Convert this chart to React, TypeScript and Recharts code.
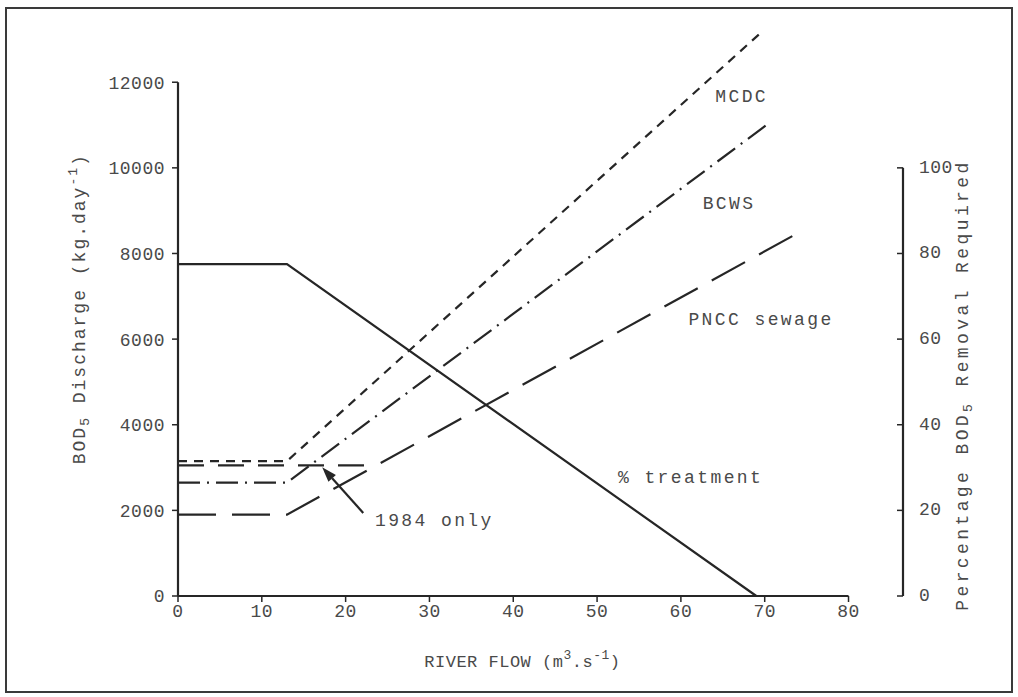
import React from 'react';
import { LineChart, Line, XAxis, YAxis, ReferenceLine, ReferenceDot, Label } from 'recharts';

// River flow (m3/s) at the break points of each line, and the load / percentage there
const mcdcFlow = [0, 13, 69.5];
const mcdcLoad = [3150, 3150, 13150];
const bcwsFlow = [0, 13, 70.2];
const bcwsLoad = [2650, 2650, 11000];
const pnccFlow = [0, 13, 73.7];
const pnccLoad = [1900, 1900, 8450];
const pncc1984Flow = [0, 23.6];
const pncc1984Load = [3050, 3050];
const treatmentFlow = [0, 13, 69];
const treatmentPct = [77.5, 77.5, 0];

const flowTicks = [0, 10, 20, 30, 40, 50, 60, 70, 80];
const loadTicks = [0, 2000, 4000, 6000, 8000, 10000, 12000];
const pctTicks = [0, 20, 40, 60, 80, 100];

// text notes placed on the plot (flow, load)
const noteText = ['MCDC', 'BCWS', 'PNCC sewage', '% treatment', '1984 only'];
const noteFlow = [64.1, 62.6, 60.9, 52.5, 23.5];
const noteLoad = [11650, 9150, 6450, 2750, 1750];

// arrow pointing at the 1984 line
const arrowFlow = [22.1, 17.2];
const arrowLoad = [1940, 3010];

const toPoints = (xs: number[], ys: number[]) => xs.map((x, i) => ({ flow: x, value: ys[i] }));

const mcdc = toPoints(mcdcFlow, mcdcLoad);
const bcws = toPoints(bcwsFlow, bcwsLoad);
const pncc = toPoints(pnccFlow, pnccLoad);
const pncc1984 = toPoints(pncc1984Flow, pncc1984Load);
const treatment = toPoints(treatmentFlow, treatmentPct);

const FONT = '"Liberation Mono", "DejaVu Sans Mono", monospace';
const INK = '#262626';
const TEXT = '#4a4a4a';
const X_MAX = 86.5;
const LW = 2.2;

const tickStyle = { fill: TEXT, fontSize: 18, fontFamily: FONT, letterSpacing: 0.5 };

// right-hand ticks point in towards the plot
const PctTick = (props: any) => {
  const { x, y, payload } = props;
  const axisX = x - 16;
  return (
    <g>
      <line x1={axisX} y1={y} x2={axisX - 6} y2={y} stroke={INK} strokeWidth={1.5} />
      <text
        x={x}
        y={y}
        dominantBaseline="central"
        textAnchor="start"
        fill={TEXT}
        fontSize={18}
        fontFamily={FONT}
        letterSpacing={0.5}
      >
        {payload.value}
      </text>
    </g>
  );
};

const LeftTitle = (props: any) => {
  const vb = props.viewBox || { x: 0, y: 18, width: 178, height: 578 };
  const cx = vb.x + 80;
  const cy = vb.y + vb.height * 0.503;
  return (
    <text
      x={cx}
      y={cy}
      transform={`rotate(-90 ${cx} ${cy})`}
      textAnchor="middle"
      dominantBaseline="central"
      fill={TEXT}
      fontFamily={FONT}
      fontSize={18}
      letterSpacing={2}
    >
      BOD<tspan dy={5} fontSize={13}>5</tspan>
      <tspan dy={-5}> Discharge (kg.day</tspan>
      <tspan dy={-7} fontSize={13}>-1</tspan>
      <tspan dy={7}>)</tspan>
    </text>
  );
};

const RightTitle = (props: any) => {
  const vb = props.viewBox || { x: 903, y: 18, width: 115, height: 578 };
  const cx = vb.x + 60;
  const cy = vb.y + vb.height * 0.635;
  return (
    <text
      x={cx}
      y={cy}
      transform={`rotate(-90 ${cx} ${cy})`}
      textAnchor="middle"
      dominantBaseline="central"
      fill={TEXT}
      fontFamily={FONT}
      fontSize={18}
      letterSpacing={3.4}
    >
      Percentage BOD<tspan dy={5} fontSize={13}>5</tspan>
      <tspan dy={-5}> Removal Required</tspan>
    </text>
  );
};

const BottomTitle = (props: any) => {
  const vb = props.viewBox || { x: 178, y: 596, width: 725, height: 101 };
  const cx = vb.x + vb.width * 0.475;
  const cy = vb.y + 66;
  return (
    <text
      x={cx}
      y={cy}
      textAnchor="middle"
      dominantBaseline="central"
      fill={TEXT}
      fontFamily={FONT}
      fontSize={17}
      letterSpacing={0.5}
    >
      RIVER FLOW (m<tspan dy={-7} fontSize={13}>3</tspan>
      <tspan dy={7}>.s</tspan>
      <tspan dy={-7} fontSize={13}>-1</tspan>
      <tspan dy={7}>)</tspan>
    </text>
  );
};

const Arrow = (props: any) => {
  const { x1, y1, x2, y2 } = props;
  if (x1 == null || y1 == null) return null;
  const ang = Math.atan2(y2 - y1, x2 - x1);
  const len = 15;
  const half = 5;
  const bx = x2 - len * Math.cos(ang);
  const by = y2 - len * Math.sin(ang);
  const pts = [
    [x2, y2],
    [bx + half * Math.sin(ang), by - half * Math.cos(ang)],
    [bx - half * Math.sin(ang), by + half * Math.cos(ang)],
  ]
    .map((p) => p.join(','))
    .join(' ');
  return (
    <g>
      <line x1={x1} y1={y1} x2={bx} y2={by} stroke={INK} strokeWidth={LW} />
      <polygon points={pts} fill={INK} />
    </g>
  );
};

const noteShape = (text: string) => (p: any) => (
  <text
    x={p.cx}
    y={p.cy}
    dominantBaseline="central"
    fill={TEXT}
    fontFamily={FONT}
    fontSize={18}
    letterSpacing={2.4}
  >
    {text}
  </text>
);

export default function App() {
  return (
    <div style={{ position: 'absolute', left: 0, top: 0, width: 1018, height: 697, background: '#fff' }}>
      <div
        style={{
          position: 'absolute',
          left: 5,
          top: 7,
          width: 1008,
          height: 686,
          boxSizing: 'border-box',
          border: '2px solid #3a3a3a',
        }}
      />
      <div style={{ position: 'absolute', left: 0, top: 0 }}>
        <LineChart width={1018} height={697} margin={{ top: 18, right: 0, bottom: 0, left: 0 }}>
          <XAxis
            dataKey="flow"
            type="number"
            domain={[0, X_MAX]}
            ticks={flowTicks}
            interval={0}
            axisLine={false}
            tickLine={{ stroke: INK, strokeWidth: 1.5 }}
            tickSize={6}
            tick={tickStyle}
            height={101}
            label={<Label content={BottomTitle} />}
          />
          <YAxis
            yAxisId="load"
            orientation="left"
            domain={[0, 13500]}
            ticks={loadTicks}
            interval={0}
            width={178}
            axisLine={false}
            tickLine={{ stroke: INK, strokeWidth: 1.5 }}
            tickSize={6}
            tickMargin={7}
            tick={tickStyle}
            label={<Label content={LeftTitle} />}
          />
          <YAxis
            yAxisId="pct"
            orientation="right"
            domain={[0, 135]}
            ticks={pctTicks}
            interval={0}
            width={115}
            axisLine={false}
            tickLine={false}
            tickSize={6}
            tickMargin={10}
            tick={<PctTick />}
            label={<Label content={RightTitle} />}
          />

          {/* axis lines, each only as long as its scale */}
          <ReferenceLine
            yAxisId="load"
            segment={[{ x: 0, y: 0 }, { x: 80, y: 0 }]}
            stroke={INK}
            strokeWidth={LW}
            ifOverflow="visible"
          />
          <ReferenceLine
            yAxisId="load"
            segment={[{ x: 0, y: 0 }, { x: 0, y: 12000 }]}
            stroke={INK}
            strokeWidth={LW}
            ifOverflow="visible"
          />
          <ReferenceLine
            yAxisId="pct"
            segment={[{ x: X_MAX, y: 0 }, { x: X_MAX, y: 100 }]}
            stroke={INK}
            strokeWidth={LW}
            ifOverflow="visible"
          />

          <Line
            yAxisId="load"
            data={mcdc}
            dataKey="value"
            type="linear"
            stroke={INK}
            strokeWidth={LW}
            strokeDasharray="9 7"
            dot={false}
            activeDot={false}
            isAnimationActive={false}
          />
          <Line
            yAxisId="load"
            data={bcws}
            dataKey="value"
            type="linear"
            stroke={INK}
            strokeWidth={LW}
            strokeDasharray="22 7 2 7"
            dot={false}
            activeDot={false}
            isAnimationActive={false}
          />
          <Line
            yAxisId="load"
            data={pncc}
            dataKey="value"
            type="linear"
            stroke={INK}
            strokeWidth={LW}
            strokeDasharray="38 16"
            dot={false}
            activeDot={false}
            isAnimationActive={false}
          />
          <Line
            yAxisId="load"
            data={pncc1984}
            dataKey="value"
            type="linear"
            stroke={INK}
            strokeWidth={LW}
            strokeDasharray="26 14"
            dot={false}
            activeDot={false}
            isAnimationActive={false}
          />
          <Line
            yAxisId="pct"
            data={treatment}
            dataKey="value"
            type="linear"
            stroke={INK}
            strokeWidth={LW}
            dot={false}
            activeDot={false}
            isAnimationActive={false}
          />

          <ReferenceLine
            yAxisId="load"
            segment={[
              { x: arrowFlow[0], y: arrowLoad[0] },
              { x: arrowFlow[1], y: arrowLoad[1] },
            ]}
            shape={Arrow}
            ifOverflow="visible"
          />

          {noteText.map((t, i) => (
            <ReferenceDot
              key={t}
              yAxisId="load"
              x={noteFlow[i]}
              y={noteLoad[i]}
              r={0}
              ifOverflow="visible"
              shape={noteShape(t)}
            />
          ))}
        </LineChart>
      </div>
    </div>
  );
}
